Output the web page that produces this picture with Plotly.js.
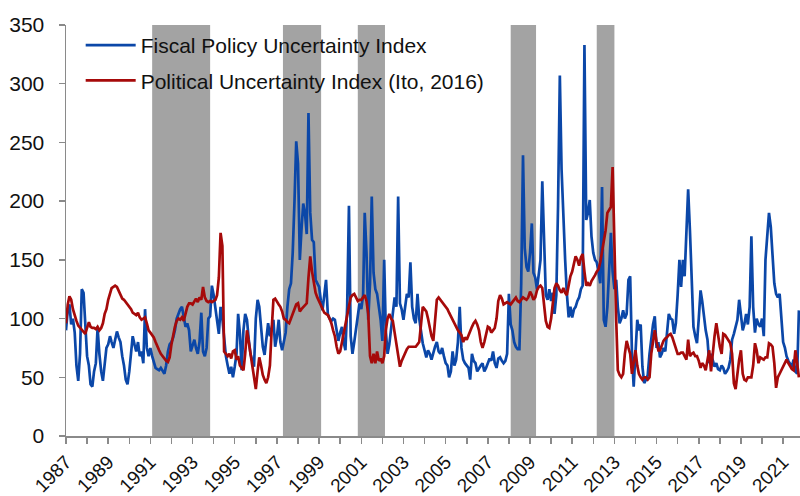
<!DOCTYPE html>
<html>
<head>
<meta charset="utf-8">
<script src="https://cdn.plot.ly/plotly-3.0.1.min.js"></script>
<style>html,body{margin:0;padding:0;background:#fff;}#chart{width:800px;height:496px;}</style>
</head>
<body>
<div id="chart"></div>
<script>
// Monthly series starting January 1987
var startYear = 1987;
var startMonth = 1;

var fiscalName = "Fiscal Policy Uncertainty Index";
var politicalName = "Political Uncertainty Index (Ito, 2016)";

var fiscal = [
  90,108,112,95,100,88,60,47,70,125,122,95,        // 1987
  68,60,44,42,55,62,92,70,55,47,62,75,             // 1988
  78,85,80,75,82,89,84,80,68,60,48,44,             // 1989
  55,70,85,78,72,80,68,72,62,108,75,68,            // 1990
  75,68,62,58,57,56,58,55,53,60,72,78,             // 1991
  80,84,90,100,104,108,110,100,93,96,90,72,        // 1992
  78,82,75,70,80,105,72,68,75,100,102,128,         // 1993
  120,108,95,87,110,100,84,68,60,53,59,50,         // 1994
  59,70,104,87,56,90,104,99,82,70,64,59,           // 1995
  100,116,110,90,76,69,80,96,85,92,99,76,          // 1996
  85,99,80,73,81,88,110,125,130,156,200,251,       // 1997
  232,150,175,198,190,172,275,190,167,165,133,130, // 1998
  127,115,107,120,133,104,100,98,100,99,90,81,     // 1999
  88,93,80,73,110,196,85,70,80,90,102,113,         // 2000
  108,120,190,156,99,130,204,139,125,121,110,99,   // 2001
  81,150,90,70,78,90,104,118,110,204,113,108,      // 2002
  99,110,121,118,148,110,100,96,121,100,87,79,     // 2003
  73,67,73,70,65,72,76,80,72,70,75,68,             // 2004
  62,60,50,55,72,60,65,80,110,75,65,62,            // 2005
  60,58,48,70,64,62,55,58,60,62,55,58,             // 2006
  62,66,64,72,62,58,66,67,64,62,64,70,             // 2007
  121,95,90,80,76,74,74,130,239,160,144,140,       // 2008
  156,181,139,135,125,140,150,217,156,120,116,125, // 2009
  115,122,104,120,196,307,227,184,150,121,101,110, // 2010
  101,108,110,115,118,125,128,333,184,190,201,170, // 2011
  156,150,148,140,130,212,99,93,110,140,173,140,   // 2012
  125,133,110,96,100,107,100,104,133,136,70,42,    // 2013
  75,99,90,95,59,45,48,52,70,85,95,102,            // 2014
  75,80,67,70,75,72,90,104,100,99,87,96,           // 2015
  120,150,127,150,136,170,210,175,130,93,85,79,    // 2016
  100,124,115,100,90,82,62,70,65,59,62,57,         // 2017
  56,60,58,53,55,58,65,82,87,92,99,116,            // 2018
  100,90,95,104,95,110,170,110,88,100,95,93,       // 2019
  100,85,150,170,190,178,150,130,121,118,121,100,  // 2020
  80,75,68,64,62,59,65,55,53,107                   // 2021
];

var political = [
  96,112,119,116,108,102,98,94,92,90,88,87,        // 1987
  92,97,93,92,92,91,93,90,92,96,104,108,           // 1988
  116,122,126,127,128,127,124,120,117,116,114,113, // 1989
  111,108,105,104,103,105,101,99,100,101,96,90,    // 1990
  88,86,84,80,76,73,70,68,65,64,63,67,             // 1991
  78,87,93,98,100,99,101,98,104,110,113,113,       // 1992
  112,115,117,114,118,116,127,118,115,114,115,114, // 1993
  115,116,120,135,173,162,72,70,68,70,66,72,       // 1994
  73,65,68,60,58,56,70,90,80,70,56,48,             // 1995
  40,55,67,60,52,48,45,50,60,90,116,117,           // 1996
  114,112,110,106,100,99,97,96,100,104,108,112,    // 1997
  113,106,108,110,112,113,135,153,140,130,122,118, // 1998
  115,112,108,105,104,103,100,96,90,85,76,70,      // 1999
  72,80,88,95,105,112,118,120,121,118,115,116,     // 2000
  116,118,120,115,104,68,62,70,62,72,64,66,        // 2001
  62,68,90,100,104,100,98,88,79,68,59,64,          // 2002
  68,72,74,76,76,76,76,76,78,80,95,110,            // 2003
  108,106,100,92,85,81,98,116,118,116,114,112,     // 2004
  110,108,105,102,98,95,92,90,88,86,80,84,         // 2005
  82,86,90,93,96,98,95,90,80,75,80,86,             // 2006
  93,92,88,90,92,100,115,120,117,112,113,114,      // 2007
  113,112,114,116,118,115,114,116,118,117,116,118, // 2008
  123,120,116,118,124,127,128,126,112,98,93,92,    // 2009
  100,112,126,130,128,124,122,126,122,120,130,136, // 2010
  140,148,153,150,145,152,155,140,128,130,128,132, // 2011
  134,137,140,142,148,156,165,175,190,193,195,229, // 2012
  150,99,56,52,50,53,70,81,75,70,53,62,            // 2013
  73,60,53,50,48,50,50,48,50,70,82,90,             // 2014
  80,73,73,78,81,83,84,86,87,84,79,75,             // 2015
  70,70,71,71,68,65,82,68,70,71,68,68,             // 2016
  64,58,62,60,56,65,73,55,73,85,96,86,             // 2017
  76,70,87,86,84,82,79,70,45,40,56,65,             // 2018
  73,53,48,47,50,50,50,60,79,73,62,67,             // 2019
  66,65,67,67,79,78,76,62,41,50,53,56,             // 2020
  59,62,65,62,59,57,56,73,62,50                    // 2021
];

// Recession periods (shaded)
var recessionStart = ["1991-02-01", "1997-04-15", "2000-11-01", "2008-02-01", "2012-03-01"];
var recessionEnd   = ["1993-11-01", "1999-02-05", "2002-02-15", "2009-04-15", "2013-01-01"];

var yMin = 0, yMax = 350;

function monthDates(n) {
  var out = [];
  for (var i = 0; i < n; i++) {
    var y = startYear + Math.floor((startMonth - 1 + i) / 12);
    var m = ((startMonth - 1 + i) % 12) + 1;
    out.push(y + "-" + (m < 10 ? "0" + m : m) + "-01");
  }
  return out;
}

var datesF = monthDates(fiscal.length);
var datesP = monthDates(political.length);

var traces = [
  {x: datesF, y: fiscal, name: fiscalName, type: "scatter", mode: "lines",
   line: {color: "#0b47a8", width: 2.7}, legendgroup: "a"},
  {x: datesP, y: political, name: politicalName, type: "scatter", mode: "lines",
   line: {color: "#a60a0a", width: 2.7}, legendgroup: "b"}
];

var shapes = recessionStart.map(function (s, i) {
  return {type: "rect", xref: "x", yref: "y", x0: s, x1: recessionEnd[i], y0: yMin, y1: yMax,
          fillcolor: "#a3a3a3", line: {width: 0}, layer: "below"};
});

var family = "Liberation Sans, Arial, sans-serif";
var font = {family: family, size: 21, color: "#111"};
var xTickFont = {family: family, size: 19, color: "#111"};

var layout = {
  width: 800, height: 496,
  margin: {l: 66, r: 0, t: 25, b: 60, pad: 0},
  paper_bgcolor: "#fff", plot_bgcolor: "#fff",
  font: font,
  showlegend: true,
  legend: {x: 0.02, y: 1.0, xanchor: "left", yanchor: "top", bgcolor: "rgba(0,0,0,0)",
           font: {family: family, size: 21, color: "#111"}, tracegroupgap: 5,
           traceorder: "grouped", itemwidth: 50},
  xaxis: {
    type: "date", range: ["1987-01-01", "2021-10-20"],
    tickmode: "linear", tick0: "1987-01-01", dtick: "M24", tickformat: "%Y",
    tickangle: -45, ticks: "outside", ticklen: 6, tickcolor: "#8a8a8a", tickwidth: 1.5,
    minor: {tickmode: "linear", tick0: "1987-01-01", dtick: "M12", ticks: "outside", ticklen: 6,
            tickcolor: "#8a8a8a", tickwidth: 1.5, showgrid: false},
    showline: true, linecolor: "#8a8a8a", linewidth: 1.5,
    showgrid: false, zeroline: false, automargin: false,
    ticklabelstandoff: 0,
    tickfont: xTickFont
  },
  yaxis: {
    range: [yMin, yMax], tickmode: "linear", tick0: 0, dtick: 50,
    ticks: "outside", ticklen: 6, tickcolor: "#8a8a8a", tickwidth: 1.5,
    showline: true, linecolor: "#8a8a8a", linewidth: 1.5,
    showgrid: false, zeroline: false, automargin: false,
    ticklabelstandoff: 10,
    tickfont: font
  },
  shapes: shapes
};

Plotly.newPlot("chart", traces, layout, {displayModeBar: false, staticPlot: true});
</script>
</body>
</html>
